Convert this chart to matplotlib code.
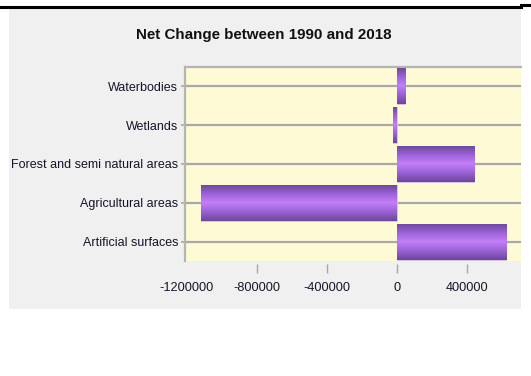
import numpy as np
import matplotlib
matplotlib.use('Agg')
import matplotlib.pyplot as plt
from matplotlib.colors import LinearSegmentedColormap
from matplotlib.lines import Line2D
from matplotlib.patches import Rectangle

# net change in land cover (ha), bottom to top
categories = ['Artificial surfaces', 'Agricultural areas', 'Forest and semi natural areas',
              'Wetlands', 'Waterbodies']
net_change = [623000, -1118000, 442000, -19000, 49000]
xticks = [-1200000, -800000, -400000, 0, 400000]

plt.rcParams['font.family'] = ['Liberation Sans', 'DejaVu Sans']

fig = plt.figure(figsize=(5.31, 3.76), dpi=100)
W, H = 531.0, 376.0

# grey panel behind the chart and the black rule along the top
fig.add_artist(Rectangle((9 / W, 1 - 309 / H), (521 - 9) / W, (309 - 8) / H,
                         transform=fig.transFigure, facecolor='#f0f0f0',
                         edgecolor='none', zorder=0))
fig.add_artist(Line2D([0, 521 / W], [1 - 7 / H, 1 - 7 / H], color='black', lw=2.2))
fig.add_artist(Line2D([521 / W, 1], [1 - 5 / H, 1 - 5 / H], color='black', lw=2.2))

ax = fig.add_axes([185.3 / W, 1 - 261 / H, (521 - 185.3) / W, (261 - 67) / H])
ax.set_facecolor('#fffad6')

y = np.arange(len(categories))
bars = ax.barh(y, net_change, height=0.93, color='#a066e0', edgecolor='#d8c8e8',
               linewidth=0.6, zorder=3)

# shaded purple fill, dark at the edges and light in the middle
cmap = LinearSegmentedColormap.from_list('bar', ['#6c4897', '#9a62d6', '#c47ff8',
                                                 '#9a62d6', '#6a4794'])
grad = np.linspace(0, 1, 64).reshape(-1, 1)
for b in bars:
    x0, y0 = b.get_x(), b.get_y()
    im = ax.imshow(grad, cmap=cmap, aspect='auto', interpolation='bilinear',
                   extent=[x0, x0 + b.get_width(), y0, y0 + b.get_height()],
                   origin='lower', zorder=4)
    im.set_clip_path(b)

ax.set_xlim(-1208000, 710000)
ax.set_ylim(-0.5, len(categories) - 0.5)

ax.set_yticks(y)
ax.set_yticklabels(categories)
ax.set_xticks(xticks)
ax.set_xticklabels([str(v) for v in xticks])
ax.yaxis.grid(True, color='#a8a8a8', lw=1.6, zorder=1)
ax.set_axisbelow(True)

for s in ['right', 'bottom']:
    ax.spines[s].set_visible(False)
for s in ['left', 'top']:
    ax.spines[s].set_color('#b4b4b4')
    ax.spines[s].set_linewidth(1.6)
ax.spines['bottom'].set_position(('outward', 2))

ax.tick_params(axis='y', length=3, width=1.2, color='#a8a8a8', pad=2,
               labelsize=9, labelcolor='#15152a')
ax.tick_params(axis='x', length=6.5, width=1, color='#a8a8a8', pad=6.5,
               labelsize=9.2, labelcolor='#15152a')
# the leftmost tick sits under the plot border, only its label shows
ax.xaxis.get_major_ticks()[0].tick1line.set_visible(False)

fig.text(264 / W, 1 - 35 / H, 'Net Change between 1990 and 2018', ha='center',
         va='center', fontsize=10.9, fontweight='bold', color='#111111')

fig.savefig('out.png', dpi=100)
